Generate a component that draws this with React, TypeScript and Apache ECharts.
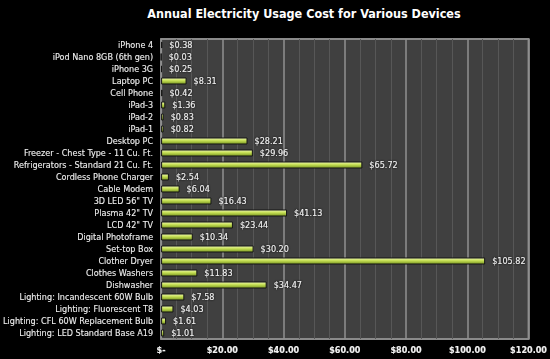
import React, { useEffect, useRef } from "react";
import * as echarts from "echarts";

const categories: string[] = [
  "iPhone 4",
  "iPod Nano 8GB (6th gen)",
  "iPhone 3G",
  "Laptop PC",
  "Cell Phone",
  "iPad-3",
  "iPad-2",
  "iPad-1",
  "Desktop PC",
  "Freezer - Chest Type - 11 Cu. Ft.",
  "Refrigerators - Standard 21 Cu. Ft.",
  "Cordless Phone Charger",
  "Cable Modem",
  "3D LED 56\" TV",
  "Plasma 42\" TV",
  "LCD 42\" TV",
  "Digital Photoframe",
  "Set-top Box",
  "Clother Dryer",
  "Clothes Washers",
  "Dishwasher",
  "Lighting: Incandescent 60W Bulb",
  "Lighting: Fluorescent T8",
  "Lighting: CFL 60W Replacement Bulb",
  "Lighting: LED Standard Base A19",
];

const costs: number[] = [
  0.38, 0.03, 0.25, 8.31, 0.42, 1.36, 0.83, 0.82, 28.21, 29.96, 65.72, 2.54,
  6.04, 16.43, 41.13, 23.44, 10.34, 30.2, 105.82, 11.83, 34.47, 7.58, 4.03,
  1.61, 1.01,
];

const xTicks: number[] = [0, 20, 40, 60, 80, 100, 120];

const FONT = "'DejaVu Sans Condensed', 'Liberation Sans Narrow', sans-serif";

export default function App() {
  const ref = useRef<HTMLDivElement>(null);
  useEffect(() => {
    if (!ref.current) return;
    const chart = echarts.init(ref.current, null, { renderer: "svg" });
    chart.setOption({
      animation: false,
      backgroundColor: "#000000",
      title: {
        text: "Annual Electricity Usage Cost for Various Devices",
        left: 299,
        textAlign: "center",
        top: 2,
        textStyle: {
          color: "#ffffff",
          fontFamily: FONT,
          fontWeight: "bold",
          fontSize: 12.5,
        },
      },
      grid: {
        left: 131,
        right: 17,
        top: 39,
        bottom: 20,
        show: true,
        backgroundColor: "#404040",
        borderColor: "#8a8a8a",
        borderWidth: 2,
      },
      xAxis: {
        type: "value",
        min: xTicks[0],
        max: xTicks[xTicks.length - 1],
        interval: 20,
        axisLine: { show: false },
        axisTick: { show: false },
        splitLine: { show: true, lineStyle: { color: "#909090", width: 1.5 } },
        minorTick: { show: false, splitNumber: 4 },
        minorSplitLine: { show: true, lineStyle: { color: "#575757", width: 1 } },
        axisLabel: {
          color: "#f0f0f0",
          fontFamily: FONT,
          fontWeight: "bold",
          fontSize: 9,
          margin: 6,
          formatter: (v: number) => (v === 0 ? "$-" : "$" + v.toFixed(2)),
          textShadowColor: "#000",
          textShadowBlur: 2,
        },
      },
      yAxis: {
        type: "category",
        inverse: true,
        data: categories,
        axisLine: { show: false },
        axisTick: { show: false },
        splitLine: { show: false },
        axisLabel: {
          color: "#f0f0f0",
          fontFamily: FONT,
          fontSize: 9,
          margin: 8,
          interval: 0,
          textShadowColor: "#000",
          textShadowBlur: 2,
        },
      },
      series: [
        {
          type: "bar",
          data: costs,
          barWidth: 7,
          itemStyle: {
            color: new echarts.graphic.LinearGradient(0, 0, 0, 1, [
              { offset: 0, color: "#eef8b0" },
              { offset: 0.45, color: "#c4de52" },
              { offset: 1, color: "#7a9624" },
            ]),
            borderColor: "#151515",
            borderWidth: 1,
          },
          label: {
            show: true,
            position: "right",
            distance: 7,
            color: "#f2f2f2",
            fontFamily: FONT,
            fontSize: 9,
            textShadowColor: "#000",
            textShadowBlur: 2,
            formatter: (p: any) => "$" + Number(p.value).toFixed(2),
          },
        },
      ],
    });
    return () => chart.dispose();
  }, []);
  return <div ref={ref} style={{ width: 550, height: 359, position: "absolute", left: 0, top: 0 }} />;
}
